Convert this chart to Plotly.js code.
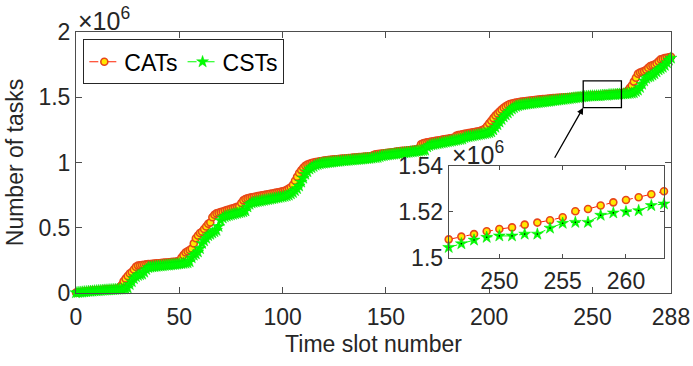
<!DOCTYPE html>
<html>
<head>
<meta charset="utf-8">
<script src="https://cdn.plot.ly/plotly-3.0.1.min.js"></script>
<style>html,body{margin:0;padding:0;background:#fff;}#chart{width:693px;height:366px;}</style>
</head>
<body>
<div id="chart"></div>
<script>
// Time slots 0..288
const slots = Array.from({length: 289}, (_, i) => i);

// Number of tasks (in units of 10^6)
const catsM = [
0.004,0.006,0.008,0.010,0.012,0.013,0.015,0.016,0.018,0.019,
0.021,0.022,0.023,0.025,0.026,0.027,0.029,0.030,0.031,0.033,
0.034,0.036,0.060,0.090,0.110,0.130,0.150,0.160,0.180,0.200,
0.210,0.212,0.215,0.217,0.219,0.221,0.222,0.224,0.225,0.227,
0.228,0.230,0.231,0.233,0.234,0.236,0.237,0.239,0.240,0.242,
0.245,0.270,0.290,0.310,0.320,0.330,0.340,0.380,0.420,0.440,
0.460,0.470,0.490,0.510,0.530,0.540,0.580,0.600,0.610,0.615,
0.620,0.625,0.630,0.635,0.640,0.645,0.650,0.655,0.660,0.665,
0.690,0.710,0.720,0.725,0.730,0.733,0.736,0.739,0.742,0.745,
0.748,0.751,0.754,0.757,0.760,0.763,0.766,0.769,0.772,0.775,
0.779,0.783,0.790,0.800,0.810,0.830,0.860,0.890,0.920,0.940,
0.960,0.975,0.985,0.990,0.995,1.000,1.003,1.006,1.009,1.012,
1.014,1.016,1.018,1.020,1.022,1.024,1.025,1.027,1.028,1.030,
1.031,1.033,1.034,1.035,1.037,1.038,1.040,1.041,1.042,1.044,
1.045,1.046,1.048,1.050,1.058,1.062,1.065,1.067,1.069,1.071,
1.073,1.075,1.077,1.079,1.081,1.083,1.085,1.087,1.089,1.090,
1.092,1.094,1.096,1.098,1.100,1.102,1.110,1.140,1.148,1.151,
1.154,1.157,1.160,1.163,1.166,1.168,1.171,1.174,1.177,1.180,
1.182,1.185,1.188,1.190,1.205,1.210,1.213,1.216,1.219,1.222,
1.225,1.228,1.231,1.234,1.237,1.240,1.244,1.250,1.260,1.280,
1.300,1.320,1.340,1.360,1.375,1.390,1.405,1.420,1.430,1.440,
1.448,1.452,1.456,1.459,1.462,1.465,1.467,1.469,1.471,1.473,
1.475,1.477,1.479,1.481,1.482,1.484,1.486,1.487,1.489,1.490,
1.491,1.493,1.494,1.495,1.496,1.497,1.498,1.499,1.500,1.501,
1.502,1.503,1.504,1.505,1.506,1.507,
1.5081,1.5093,1.5104,1.5116,1.5126,1.5133,1.5145,1.5154,1.5164,1.5177,
1.5203,1.5213,1.5228,1.5242,1.5252,1.5264,1.5277,1.5290,
1.531,1.535,1.540,1.550,1.570,1.590,1.620,1.650,1.680,1.690,
1.695,1.700,1.710,1.725,1.740,1.745,1.750,1.760,1.775,1.790,
1.795,1.800,1.803,1.806,1.810
];

const cstsM = [
0.002,0.004,0.006,0.007,0.009,0.010,0.012,0.013,0.014,0.016,
0.017,0.018,0.019,0.021,0.022,0.023,0.024,0.025,0.026,0.027,
0.028,0.029,0.030,0.031,0.032,0.040,0.065,0.087,0.110,0.125,
0.135,0.140,0.145,0.160,0.180,0.195,0.198,0.200,0.202,0.204,
0.206,0.207,0.209,0.211,0.213,0.214,0.216,0.218,0.219,0.221,
0.223,0.225,0.227,0.229,0.232,0.240,0.270,0.290,0.300,0.315,
0.340,0.380,0.400,0.420,0.440,0.450,0.460,0.470,0.480,0.510,
0.555,0.575,0.585,0.590,0.595,0.599,0.603,0.607,0.611,0.615,
0.619,0.623,0.630,0.660,0.680,0.690,0.695,0.698,0.701,0.704,
0.707,0.710,0.713,0.716,0.719,0.722,0.725,0.728,0.731,0.734,
0.737,0.741,0.745,0.750,0.760,0.770,0.785,0.800,0.820,0.850,
0.880,0.910,0.930,0.950,0.960,0.970,0.980,0.985,0.990,0.993,
0.995,0.997,0.999,1.001,1.003,1.005,1.007,1.008,1.010,1.012,
1.013,1.015,1.016,1.018,1.019,1.021,1.022,1.024,1.025,1.027,
1.028,1.030,1.031,1.033,1.035,1.037,1.039,1.045,1.050,1.053,
1.056,1.058,1.060,1.062,1.064,1.066,1.068,1.070,1.072,1.074,
1.076,1.078,1.080,1.082,1.084,1.086,1.088,1.090,1.092,1.095,
1.120,1.130,1.135,1.138,1.141,1.144,1.147,1.150,1.153,1.156,
1.159,1.162,1.165,1.168,1.171,1.174,1.177,1.180,1.190,1.195,
1.198,1.201,1.204,1.207,1.210,1.213,1.216,1.219,1.222,1.225,
1.229,1.235,1.250,1.270,1.290,1.310,1.330,1.350,1.365,1.380,
1.395,1.410,1.420,1.430,1.435,1.440,1.442,1.445,1.447,1.449,
1.451,1.453,1.455,1.457,1.459,1.461,1.463,1.465,1.467,1.469,
1.471,1.473,1.475,1.477,1.479,1.481,1.483,1.485,1.487,1.489,
1.492,1.494,1.496,1.498,1.500,1.502,
1.5046,1.5062,1.5078,1.5090,1.5096,1.5096,1.5104,1.5104,1.5130,1.5151,
1.5155,1.5155,1.5186,1.5196,1.5201,1.5206,1.5228,1.5235,
1.524,1.525,1.526,1.528,1.530,1.532,1.535,1.545,1.555,1.575,
1.600,1.625,1.645,1.655,1.660,1.670,1.680,1.695,1.710,1.720,
1.730,1.745,1.765,1.785,1.800
];

const xTickVals = [0, 50, 100, 150, 200, 250, 288];
const yTickVals = [0, 0.5, 1, 1.5, 2];
const yTickText = ['0', '0.5', '1', '1.5', '2'];
const insetFrom = 246, insetTo = 263;
const insetXTicks = [250, 255, 260];
const insetYTicks = [1.5, 1.52, 1.54];
const insetYText = ['1.5', '1.52', '1.54'];
const zoomBox = {x0: 245.5, x1: 264, y0: 1.42, y1: 1.625};

const FONT = '"Liberation Sans", Arial, Helvetica, sans-serif';
const TXT = '#262626';
const AX = '#4d4d4d';
const FS = 23;

const inX = slots.slice(insetFrom, insetTo + 1);
const inCats = catsM.slice(insetFrom, insetTo + 1);
const inCsts = cstsM.slice(insetFrom, insetTo + 1);

const catsMarker = {symbol: 'circle', size: 7, color: '#ffe800', line: {color: '#e8461a', width: 1.6}};
const cstsMarker = {symbol: 'star', size: 9, color: '#00ff00', line: {color: '#00e600', width: 0.5}};

const traces = [
  {x: slots, y: catsM, name: 'CATs', type: 'scatter', mode: 'lines+markers', xaxis: 'x', yaxis: 'y',
   line: {color: '#ff2000', dash: 'dash', width: 1}, marker: catsMarker, cliponaxis: false},
  {x: slots, y: cstsM, name: 'CSTs', type: 'scatter', mode: 'lines+markers', xaxis: 'x', yaxis: 'y',
   line: {color: '#00ff00', dash: 'dash', width: 1}, marker: cstsMarker, cliponaxis: false},
  {x: inX, y: inCats, type: 'scatter', mode: 'lines+markers', xaxis: 'x2', yaxis: 'y2', showlegend: false,
   line: {color: '#ff2000', dash: 'dash', width: 1}, marker: catsMarker, cliponaxis: false},
  {x: inX, y: inCsts, type: 'scatter', mode: 'lines+markers', xaxis: 'x2', yaxis: 'y2', showlegend: false,
   line: {color: '#00ff00', dash: 'dash', width: 1}, marker: cstsMarker, cliponaxis: false},
  {x: inX, y: inCsts, type: 'scatter', mode: 'markers', xaxis: 'x2', yaxis: 'y2', showlegend: false, hoverinfo: 'skip',
   marker: {size: 1.6, color: '#000'}, cliponaxis: false}
];

const axCommon = {
  showline: true, linecolor: AX, linewidth: 1, mirror: 'ticks', ticks: 'inside', ticklen: 6,
  tickcolor: AX, tickwidth: 1, showgrid: false, zeroline: false,
  tickfont: {family: FONT, size: FS, color: TXT}
};

const layout = {
  width: 693, height: 366,
  margin: {l: 76, r: 22, t: 32, b: 73, pad: 0},
  paper_bgcolor: '#fff', plot_bgcolor: 'rgba(0,0,0,0)',
  font: {family: FONT, size: FS, color: TXT},
  showlegend: true,
  xaxis: Object.assign({}, axCommon, {domain: [0, 1], anchor: 'y', range: [0, 288],
    tickmode: 'array', tickvals: xTickVals, ticktext: xTickVals.map(String), ticklabelstandoff: 3,
    title: {text: 'Time slot number', font: {family: FONT, size: FS, color: TXT}, standoff: 7}}),
  yaxis: Object.assign({}, axCommon, {domain: [0, 1], anchor: 'x', range: [0, 2],
    tickmode: 'array', tickvals: yTickVals, ticktext: yTickText,
    title: {text: 'Number of tasks', font: {family: FONT, size: FS, color: TXT}, standoff: 8}}),
  xaxis2: Object.assign({}, axCommon, {domain: [0.6264, 0.9882], anchor: 'y2', range: [insetFrom, insetTo],
    tickmode: 'array', tickvals: insetXTicks, ticktext: insetXTicks.map(String), ticklen: 4, ticklabelstandoff: 2}),
  yaxis2: Object.assign({}, axCommon, {domain: [0.1341, 0.4866], anchor: 'x2', range: [1.5, 1.54],
    tickmode: 'array', tickvals: insetYTicks, ticktext: insetYText, ticklen: 4}),
  legend: {x: 0.0123, y: 0.972, xanchor: 'left', yanchor: 'top', orientation: 'h',
    bgcolor: '#fff', bordercolor: TXT, borderwidth: 1,
    font: {family: FONT, size: FS, color: '#000'}, itemwidth: 30, tracegroupgap: 0},
  shapes: [
    {type: 'rect', xref: 'x2 domain', yref: 'y2 domain', x0: 0, x1: 1, y0: 0, y1: 1,
     fillcolor: '#fff', line: {width: 0}, layer: 'below'},
    {type: 'rect', xref: 'x', yref: 'y', x0: zoomBox.x0, x1: zoomBox.x1, y0: zoomBox.y0, y1: zoomBox.y1,
     line: {color: '#000', width: 1.3}, fillcolor: 'rgba(0,0,0,0)', layer: 'above'}
  ],
  annotations: [
    {xref: 'paper', yref: 'paper', x: 0.0, y: 0.982, xanchor: 'left', yanchor: 'bottom', showarrow: false,
     text: '×10<sup>6</sup>', font: {family: FONT, size: 25, color: TXT}},
    {xref: 'paper', yref: 'paper', x: 0.628, y: 0.469, xanchor: 'left', yanchor: 'bottom', showarrow: false,
     text: '×10<sup>6</sup>', font: {family: FONT, size: 25, color: TXT}},
    {xref: 'x', yref: 'y', x: zoomBox.x0, y: zoomBox.y0, ax: -33, ay: 58, axref: 'pixel', ayref: 'pixel',
     showarrow: true, arrowhead: 2, arrowsize: 1, arrowwidth: 1.3, arrowcolor: '#000', text: ' ', standoff: 0}
  ]
};

Plotly.newPlot('chart', traces, layout, {displayModeBar: false, staticPlot: true});
</script>
</body>
</html>
